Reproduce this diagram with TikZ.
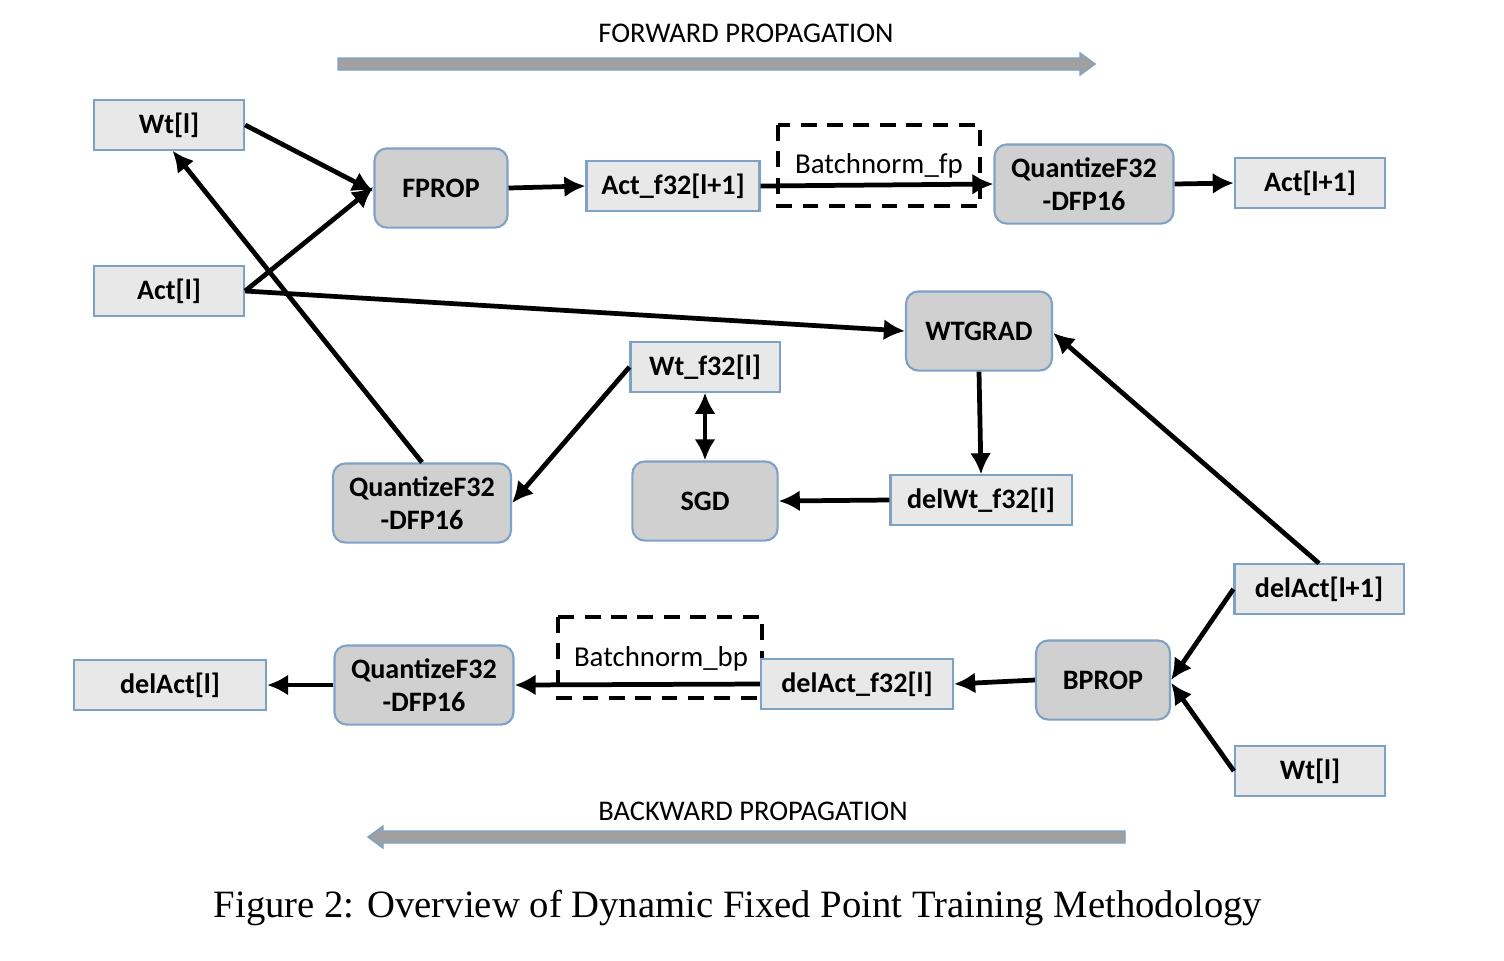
\documentclass[tikz,border=0pt]{standalone}
\usepackage{fontspec}
\setmainfont{Carlito}
\newfontfamily\capfont{Liberation Serif}
\usetikzlibrary{arrows.meta}
\definecolor{edgeblue}{HTML}{7EA1C6}
\definecolor{boxfill}{HTML}{E8E8E8}
\definecolor{opfill}{HTML}{D0D0D0}
\definecolor{bandfill}{HTML}{A0A0A0}

\begin{document}
\begin{tikzpicture}[x=0.01cm,y=-0.01cm,
        data/.style={draw=edgeblue,fill=boxfill,line width=0.6pt,font=\fontsize{8}{9.5}\selectfont\bfseries,minimum height=14pt,inner sep=0pt},
        op/.style={draw=edgeblue,fill=opfill,line width=0.6pt,rounded corners=3.5pt,font=\fontsize{8}{9.5}\selectfont\bfseries,minimum height=22.5pt,align=center,inner sep=0pt},
        flow/.style={line width=1.35pt,-{Latex[length=6pt,width=6pt]}},
        bnbox/.style={line width=1.1pt,dash pattern=on 4.5pt off 3pt},
        band/.style={draw=edgeblue,fill=bandfill,line width=0.4pt},
        auto]
    \useasboundingbox (0,0) rectangle (1504,960);

    % wide arrows
    \draw [band] (338,58) -- (1080,58) -- (1080,53) -- (1095,64) -- (1080,75) -- (1080,70) -- (338,70) -- cycle;
    \node (fwd) at (746,33) {\fontsize{8.1}{9}\selectfont FORWARD PROPAGATION};
    \draw [band] (1125,831) -- (383,831) -- (383,826) -- (368,837) -- (383,848) -- (383,843) -- (1125,843) -- cycle;
    \node (bwd) at (753,811) {\fontsize{8.1}{9}\selectfont BACKWARD PROPAGATION};

    % dashed batchnorm boxes
    \draw [bnbox] (778,125) rectangle (980,206);
    \node (bnfp) at (879,166) {\fontsize{8.2}{9}\selectfont Batchnorm\_fp};
    \draw [bnbox] (558,617) rectangle (762,698);
    \node (bnbp) at (661,659) {\fontsize{8.2}{9}\selectfont Batchnorm\_bp};

    % data and operators
    \node [data,minimum width=42.7pt] (wt) at (169,125) {Wt[l]};
    \node [data,minimum width=42.7pt] (act) at (169,291) {Act[l]};
    \node [op,minimum width=37.8pt] (fprop) at (441,188) {FPROP};
    \node [data,minimum width=49.2pt] (actf) at (673,186) {Act\_f32[l+1]};
    \node [op,minimum width=50.9pt] (qtop) at (1084,184) {QuantizeF32\\-DFP16};
    \node [data,minimum width=42.7pt] (actn) at (1310,183) {Act[l+1]};
    \node [op,minimum width=41.5pt] (wtgrad) at (979,331) {WTGRAD};
    \node [data,minimum width=42.4pt] (wtf) at (705,367) {Wt\_f32[l]};
    \node [op,minimum width=50.6pt] (qmid) at (422,503) {QuantizeF32\\-DFP16};
    \node [op,minimum width=41.3pt] (sgd) at (705,501) {SGD};
    \node [data,minimum width=51.5pt] (dwt) at (981,500) {delWt\_f32[l]};
    \node [data,minimum width=48.1pt] (dactn) at (1319,589) {delAct[l+1]};
    \node [op,minimum width=38.1pt] (bprop) at (1103,680) {BPROP};
    \node [data,minimum width=42.7pt] (wtb) at (1310,771) {Wt[l]};
    \node [data,minimum width=54.6pt] (dactf) at (857,684) {delAct\_f32[l]};
    \node [op,minimum width=50.9pt] (qbot) at (424,685) {QuantizeF32\\-DFP16};
    \node [data,minimum width=54.6pt] (dact) at (170,685) {delAct[l]};

    % forward
    \draw [flow] (wt.east) -- ([yshift=-1pt]fprop.west);
    \draw [flow] (act.east) -- ([yshift=0.3pt]fprop.west);
    \draw [flow] (act.east) -- (wtgrad.west);
    \draw [flow] (fprop.east) -- (actf.west);
    \draw [flow] (actf.east) -- (qtop.west);
    \draw [flow] (qtop.east) -- (actn.west);
    \draw [flow] (qmid.north) -- ([xshift=1pt]wt.south);

    % weight update
    \draw [flow] (wtf.west) -- (qmid.east);
    \draw [line width=1.35pt,{Latex[length=6pt,width=6pt]}-{Latex[length=6pt,width=6pt]}] (wtf.south) -- (sgd.north);
    \draw [flow] (wtgrad.south) -- (dwt.north);
    \draw [flow] (dwt.west) -- (sgd.east);
    \draw [flow] (dactn.north) -- ([yshift=-0.5pt]wtgrad.east);

    % backward
    \draw [flow] (dactn.west) -- (bprop.east);
    \draw [flow] (wtb.west) -- ([yshift=-0.8pt]bprop.east);
    \draw [flow] (bprop.west) -- (dactf.east);
    \draw [flow] (dactf.west) -- (qbot.east);
    \draw [flow] (qbot.west) -- (dact.east);

    \node (cap) at (738,908) {\capfont\fontsize{11}{13}\selectfont Figure 2: Overview of Dynamic Fixed Point Training Methodology};
\end{tikzpicture}
\end{document}
